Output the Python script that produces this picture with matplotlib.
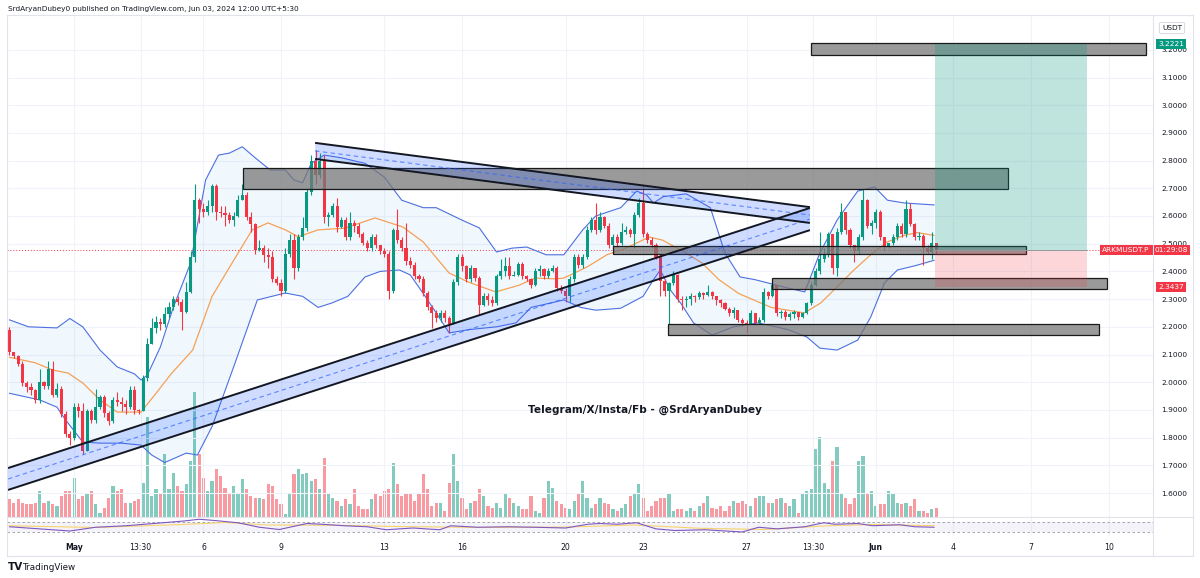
import numpy as np
import matplotlib
matplotlib.use("Agg")
import matplotlib.pyplot as plt
from matplotlib.patches import Rectangle, Polygon
from matplotlib.lines import Line2D

plt.rcParams['font.family'] = ['DejaVu Sans']

# ---------------- data (4h candles, ARKMUSDT.P) ----------------
first_open = 2.189
closes = [
    2.108, 2.093, 2.067, 1.996, 1.981, 1.971, 1.935, 2.001, 1.986, 2.047,
    1.955, 1.976, 1.884, 1.813, 1.798, 1.910, 1.895, 1.752, 1.895, 1.864,
    1.910, 1.945, 1.889, 1.859, 1.935, 1.930, 1.920, 1.910, 1.971, 1.900,
    1.895, 2.016, 2.138, 2.194, 2.219, 2.209, 2.245, 2.270, 2.301, 2.291,
    2.255, 2.326, 2.453, 2.656, 2.626, 2.616, 2.636, 2.707, 2.616, 2.610,
    2.605, 2.585, 2.600, 2.656, 2.676, 2.596, 2.570, 2.478, 2.484, 2.458,
    2.453, 2.372, 2.357, 2.331, 2.463, 2.514, 2.412, 2.524, 2.555, 2.687,
    2.798, 2.748, 2.798, 2.596, 2.605, 2.636, 2.560, 2.585, 2.524, 2.575,
    2.565, 2.534, 2.504, 2.484, 2.524, 2.494, 2.473, 2.463, 2.331, 2.550,
    2.514, 2.484, 2.438, 2.423, 2.382, 2.372, 2.321, 2.272, 2.250, 2.230,
    2.250, 2.230, 2.209, 2.362, 2.453, 2.418, 2.372, 2.412, 2.377, 2.280,
    2.311, 2.296, 2.285, 2.382, 2.402, 2.418, 2.382, 2.387, 2.428, 2.382,
    2.372, 2.352, 2.402, 2.407, 2.382, 2.402, 2.412, 2.341, 2.331, 2.311,
    2.372, 2.453, 2.423, 2.453, 2.550, 2.585, 2.550, 2.596, 2.565, 2.494,
    2.524, 2.504, 2.544, 2.550, 2.534, 2.605, 2.646, 2.534, 2.514, 2.494,
    2.453, 2.367, 2.331, 2.357, 2.387, 2.301, 2.296, 2.301, 2.311, 2.306,
    2.321, 2.316, 2.326, 2.311, 2.296, 2.285, 2.265, 2.250, 2.260, 2.225,
    2.215, 2.209, 2.250, 2.215, 2.225, 2.327, 2.311, 2.352, 2.250, 2.255,
    2.235, 2.245, 2.255, 2.235, 2.250, 2.285, 2.352, 2.402, 2.443, 2.463,
    2.534, 2.412, 2.544, 2.616, 2.550, 2.494, 2.473, 2.524, 2.656, 2.565,
    2.575, 2.616, 2.524, 2.488, 2.502, 2.524, 2.565, 2.534, 2.626, 2.570,
    2.524, 2.529, 2.484, 2.471, 2.504, 2.478,
]
highs = [
    2.199, 2.108, 2.098, 2.077, 2.006, 1.996, 1.976, 2.047, 2.006, 2.077,
    2.077, 1.996, 1.986, 1.895, 1.823, 1.925, 1.925, 1.925, 1.905, 1.905,
    1.976, 1.955, 1.955, 1.895, 1.945, 1.966, 1.945, 1.935, 1.986, 1.986,
    1.905, 2.027, 2.158, 2.230, 2.240, 2.230, 2.270, 2.291, 2.311, 2.311,
    2.301, 2.362, 2.473, 2.717, 2.666, 2.646, 2.656, 2.717, 2.717, 2.636,
    2.636, 2.616, 2.616, 2.676, 2.717, 2.686, 2.616, 2.575, 2.514, 2.494,
    2.484, 2.473, 2.382, 2.372, 2.484, 2.534, 2.534, 2.534, 2.596, 2.697,
    2.819, 2.839, 2.829, 2.819, 2.616, 2.646, 2.666, 2.596, 2.596, 2.616,
    2.585, 2.575, 2.544, 2.514, 2.534, 2.534, 2.494, 2.484, 2.473, 2.555,
    2.626, 2.524, 2.575, 2.453, 2.433, 2.392, 2.382, 2.331, 2.280, 2.260,
    2.260, 2.260, 2.240, 2.372, 2.463, 2.463, 2.423, 2.423, 2.412, 2.382,
    2.321, 2.321, 2.311, 2.392, 2.443, 2.453, 2.453, 2.402, 2.433, 2.433,
    2.387, 2.377, 2.412, 2.423, 2.412, 2.412, 2.423, 2.418, 2.352, 2.341,
    2.382, 2.463, 2.463, 2.463, 2.565, 2.596, 2.646, 2.616, 2.600, 2.575,
    2.534, 2.534, 2.575, 2.565, 2.555, 2.616, 2.666, 2.717, 2.544, 2.524,
    2.504, 2.463, 2.372, 2.362, 2.402, 2.392, 2.311, 2.311, 2.321, 2.316,
    2.331, 2.326, 2.352, 2.331, 2.311, 2.301, 2.291, 2.270, 2.270, 2.260,
    2.230, 2.225, 2.260, 2.250, 2.235, 2.341, 2.331, 2.362, 2.352, 2.260,
    2.260, 2.255, 2.260, 2.255, 2.255, 2.291, 2.362, 2.412, 2.544, 2.484,
    2.544, 2.534, 2.555, 2.646, 2.616, 2.555, 2.494, 2.534, 2.697, 2.661,
    2.585, 2.626, 2.620, 2.524, 2.504, 2.534, 2.575, 2.575, 2.656, 2.646,
    2.575, 2.544, 2.534, 2.494, 2.544, 2.504,
]
lows = [
    2.098, 2.087, 2.057, 1.986, 1.966, 1.955, 1.925, 1.925, 1.976, 1.976,
    1.945, 1.945, 1.874, 1.803, 1.773, 1.793, 1.874, 1.742, 1.752, 1.854,
    1.854, 1.905, 1.874, 1.844, 1.854, 1.915, 1.895, 1.884, 1.905, 1.884,
    1.884, 1.895, 2.006, 2.138, 2.179, 2.189, 2.199, 2.230, 2.260, 2.280,
    2.189, 2.250, 2.321, 2.433, 2.575, 2.596, 2.605, 2.616, 2.585, 2.596,
    2.565, 2.575, 2.565, 2.596, 2.656, 2.585, 2.544, 2.463, 2.473, 2.433,
    2.412, 2.362, 2.352, 2.311, 2.321, 2.453, 2.372, 2.402, 2.514, 2.545,
    2.676, 2.717, 2.737, 2.575, 2.565, 2.596, 2.544, 2.555, 2.514, 2.514,
    2.544, 2.524, 2.494, 2.473, 2.473, 2.484, 2.463, 2.453, 2.301, 2.321,
    2.504, 2.473, 2.423, 2.412, 2.372, 2.362, 2.311, 2.260, 2.194, 2.219,
    2.219, 2.219, 2.179, 2.209, 2.352, 2.402, 2.362, 2.362, 2.367, 2.245,
    2.275, 2.280, 2.275, 2.280, 2.372, 2.382, 2.372, 2.382, 2.382, 2.372,
    2.367, 2.341, 2.347, 2.382, 2.372, 2.377, 2.397, 2.331, 2.321, 2.291,
    2.291, 2.362, 2.412, 2.412, 2.443, 2.544, 2.534, 2.544, 2.555, 2.484,
    2.484, 2.489, 2.494, 2.534, 2.524, 2.484, 2.596, 2.524, 2.504, 2.484,
    2.443, 2.311, 2.311, 2.209, 2.352, 2.291, 2.260, 2.270, 2.280, 2.291,
    2.301, 2.301, 2.311, 2.301, 2.280, 2.270, 2.260, 2.240, 2.230, 2.219,
    2.204, 2.179, 2.209, 2.209, 2.209, 2.219, 2.301, 2.306, 2.240, 2.230,
    2.225, 2.225, 2.230, 2.225, 2.230, 2.245, 2.280, 2.347, 2.392, 2.433,
    2.453, 2.392, 2.382, 2.534, 2.534, 2.484, 2.433, 2.463, 2.514, 2.555,
    2.534, 2.555, 2.514, 2.478, 2.484, 2.494, 2.514, 2.524, 2.524, 2.565,
    2.514, 2.514, 2.423, 2.463, 2.443, 2.463,
]
volumes = [
    53, 43, 53, 43, 38, 38, 43, 78, 43, 48,
    38, 33, 63, 78, 78, 118, 53, 63, 68, 78,
    38, 13, 28, 58, 93, 78, 83, 43, 43, 48,
    53, 103, 300, 63, 83, 68, 189, 83, 133, 93,
    78, 98, 168, 375, 188, 118, 78, 108, 143, 123,
    88, 73, 93, 68, 113, 83, 63, 58, 58, 53,
    98, 93, 53, 38, 8, 73, 128, 143, 128, 133,
    108, 113, 83, 178, 73, 58, 48, 33, 53, 38,
    83, 33, 23, 23, 53, 73, 63, 78, 83, 163,
    98, 63, 68, 73, 48, 73, 128, 83, 33, 43,
    43, 18, 103, 188, 108, 58, 23, 43, 48, 83,
    63, 33, 28, 43, 28, 68, 58, 43, 33, 23,
    23, 63, 18, 13, 58, 108, 88, 48, 38, 28,
    23, 48, 68, 108, 58, 28, 38, 58, 43, 38,
    23, 18, 28, 38, 63, 68, 98, 58, 18, 33,
    48, 58, 58, 73, 18, 23, 23, 18, 28, 18,
    33, 43, 63, 28, 23, 33, 18, 33, 48, 43,
    48, 38, 33, 58, 63, 63, 43, 43, 53, 58,
    43, 33, 53, 13, 73, 78, 83, 204, 240, 103,
    83, 168, 210, 73, 58, 38, 58, 168, 183, 73,
    78, 33, 38, 38, 78, 68, 43, 38, 43, 33,
    53, 18, 18, 13, 23, 28,
]

time_tick_pos = [15, 30.4, 45, 63, 87, 105, 129, 147, 171, 186.4, 201, 219, 237, 255]
time_tick_labels = ["May", "13:30", "6", "9", "13", "16", "20", "23", "27",
                    "13:30", "Jun", "4", "7", "10"]
price_ticks = [1.6, 1.7, 1.8, 1.9, 2.0, 2.1, 2.2, 2.3, 2.4, 2.5,
               2.6, 2.7, 2.8, 2.9, 3.0, 3.1, 3.2]

# Bollinger bands
bb_upper_x = [0, 4.4, 11, 14, 17, 21, 25, 29, 30.5, 32, 35, 38, 42, 45.5, 48.5,
              51, 54, 57, 60.5, 64, 66, 68, 70, 73, 77, 82.5, 87, 91, 96, 99,
              105, 109, 113, 116.6, 120, 124.5, 128.6, 133, 136, 141.8, 145.5,
              147.8, 149.4, 151.7, 157, 162.6, 166, 169.5, 173, 180.6, 184.5,
              188, 192, 196.8, 200.7, 203.7, 207.6, 214.5]
bb_upper = [2.225, 2.20, 2.196, 2.23, 2.20, 2.116, 2.055, 2.03, 2.008, 2.026,
            2.127, 2.27, 2.43, 2.73, 2.82, 2.827, 2.85, 2.81, 2.766, 2.766,
            2.73, 2.72, 2.79, 2.82, 2.81, 2.79, 2.74, 2.657, 2.63, 2.63,
            2.585, 2.557, 2.47, 2.484, 2.488, 2.46, 2.46, 2.55, 2.60, 2.63,
            2.69, 2.676, 2.647, 2.67, 2.68, 2.63, 2.466, 2.38, 2.37, 2.34,
            2.326, 2.466, 2.585, 2.69, 2.705, 2.657, 2.647, 2.64]
bb_lower_x = [0, 7, 11, 13, 17, 21, 26, 30.5, 33, 36, 41, 43.6, 47, 52, 57.5,
              64, 68, 71.6, 74.8, 78.5, 82.5, 86, 90.5, 93, 96, 99, 102, 106.7,
              113, 117.5, 121, 126.7, 128.6, 132.5, 136, 141.8, 147, 149.4, 151,
              153.3, 155.7, 158.7, 163, 168, 173.7, 180.6, 185, 188, 192, 196.8,
              199.8, 203, 206, 210, 214.5]
bb_lower = [1.96, 1.936, 1.91, 1.864, 1.784, 1.78, 1.78, 1.773, 1.737, 1.71,
            1.744, 1.737, 1.84, 2.055, 2.297, 2.322, 2.31, 2.27, 2.286, 2.31,
            2.38, 2.40, 2.405, 2.387, 2.32, 2.25, 2.178, 2.19, 2.20, 2.214,
            2.27, 2.29, 2.297, 2.27, 2.26, 2.267, 2.31, 2.37, 2.405, 2.333,
            2.286, 2.214, 2.17, 2.20, 2.214, 2.19, 2.163, 2.123, 2.116, 2.152,
            2.235, 2.358, 2.405, 2.42, 2.44]
bb_basis_x = [0, 6, 10, 13.6, 17, 21, 25, 30.5, 34, 37.5, 42.5, 47, 52.4, 56.3,
              60, 64, 67, 71.6, 77.8, 84.8, 91.3, 96, 99, 102, 106.7, 112.8,
              118.2, 122, 126.7, 128.6, 134, 138.6, 143, 148.4, 151.5, 157,
              160.7, 164.6, 169.2, 176.7, 184.4, 188.2, 192, 195.9, 199.8,
              203.6, 207.5, 210.6, 214.5]
bb_basis = [2.09, 2.07, 2.044, 2.033, 1.997, 1.936, 1.892, 1.892, 1.96, 2.03,
            2.116, 2.31, 2.45, 2.55, 2.575, 2.55, 2.525, 2.55, 2.556, 2.593,
            2.56, 2.506, 2.45, 2.394, 2.36, 2.326, 2.35, 2.376, 2.373, 2.376,
            2.416, 2.46, 2.484, 2.524, 2.513, 2.466, 2.43, 2.37, 2.32, 2.27,
            2.25, 2.286, 2.344, 2.405, 2.46, 2.506, 2.53, 2.54, 2.53]

# RSI pane
rsi_x = [0, 7, 14, 20, 27, 33.5, 40.5, 44, 47.6, 53, 58, 62.6, 69, 72.4, 77.7,
         83, 87.4, 93.6, 99.8, 102.4, 108.6, 115.7, 121.9, 129, 134.2, 137, 141,
         145.5, 150, 154.4, 161.4, 170, 173.8, 178, 184.5, 188.9, 191.5, 196.8,
         200.3, 206.5, 210, 214.5]
rsi_vals = [51, 42.5, 34, 49, 55, 64, 74, 81, 76, 67, 49, 40, 64, 61, 55,
            51, 39, 46, 39, 55, 49, 51, 49, 46, 61, 64, 61, 67, 42.5, 36, 39,
            30, 49, 42.5, 51, 67, 61, 64, 55, 59, 51, 49]
rsi_ma_x = [0, 20, 40, 50, 60, 75, 90, 110, 130, 145, 160, 175, 190, 200, 214.5]
rsi_ma_vals = [55, 48, 60, 68, 58, 57, 52, 48, 50, 58, 45, 40, 55, 60, 55]

# drawings: zones (grey rectangles)
zone_left = [185.9, 54.2, 140.0, 176.9, 152.7]
zone_right = [263.6, 231.6, 235.8, 254.6, 252.7]
zone_low = [3.181, 2.697, 2.463, 2.336, 2.170]
zone_high = [3.2245, 2.773, 2.492, 2.376, 2.210]

# parallel channels (triangle)
asc_x = [-0.35, 185.7]
asc_upper = [1.690, 2.629]
asc_lower = [1.611, 2.549]
desc_x = [70.9, 185.7]
desc_upper = [2.864, 2.632]
desc_lower = [2.806, 2.575]

# long position tool
pos_x = [214.7, 249.9]
entry_price = 2.477
target_price = 3.2221
stop_price = 2.3437

# ---------------- figure ----------------
W, H = 1200, 578
fig = plt.figure(figsize=(12, 5.78), dpi=100)
fig.patch.set_facecolor('white')


def rect(x0, y0, x1, y1):
    return [x0 / W, 1 - y1 / H, (x1 - x0) / W, (y1 - y0) / H]


XMIN, XMAX = -0.58, 265.3
YMIN, YMAX = 1.6 - 24 / 277, 1.6 + 478 / 277

UP, DOWN = '#089981', '#f23645'

ax_v = fig.add_axes(rect(7, 15, 1153, 517))
ax = fig.add_axes(rect(7, 15, 1153, 517))
ax.patch.set_visible(False)

n = len(closes)
x = np.arange(n)
c = np.array(closes)
o = np.array([first_open] + closes[:-1])
hi = np.array(highs)
lo = np.array(lows)
is_up = c >= o
cols = np.where(is_up, UP, DOWN)

# volume
vcols = [(8/255, 153/255, 129/255, 0.5) if u else (242/255, 54/255, 69/255, 0.5) for u in is_up]
ax_v.bar(x, volumes, width=0.74, color=vcols, lw=0)
ax_v.set_xlim(XMIN, XMAX)
ax_v.set_ylim(0, 1506)
ax_v.axis('off')

# grid and axes
ax.set_xlim(XMIN, XMAX)
ax.set_ylim(YMIN, YMAX)
ax.set_yticks(price_ticks)
ax.set_yticklabels([f"{p:.4f}" for p in price_ticks])
ax.yaxis.tick_right()
ax.tick_params(axis='y', length=0, pad=6, labelsize=5.3, labelcolor='#131722')
ax.set_xticks(time_tick_pos)
ax.tick_params(axis='x', length=0, labelbottom=False)
ax.grid(True, color='#f0f3fa', lw=0.8)
ax.set_axisbelow(True)
for s in ax.spines.values():
    s.set_visible(False)

# Bollinger bands
ax.fill(np.r_[bb_upper_x, bb_lower_x[::-1]], np.r_[bb_upper, bb_lower[::-1]],
        color='#2196f3', alpha=0.065, lw=0, zorder=1)
ax.plot(bb_upper_x, bb_upper, color='#4d6fe0', lw=0.8, zorder=2.5)
ax.plot(bb_lower_x, bb_lower, color='#4d6fe0', lw=0.8, zorder=2.5)
ax.plot(bb_basis_x, bb_basis, color='#f6a055', lw=0.9, zorder=2.5)

# candles
ax.vlines(x, lo, hi, colors=cols, lw=0.8, zorder=3)
body = np.maximum(np.abs(c - o), 0.002)
ax.bar(x, body, bottom=np.minimum(o, c), width=0.72, color=cols, lw=0, zorder=3.1)

# current price dotted line
ax.axhline(c[-1], color=DOWN, lw=0.7, ls=(0, (1, 2)), zorder=2)

# zones
for x0, x1, l0, h0 in zip(zone_left, zone_right, zone_low, zone_high):
    ax.add_patch(Rectangle((x0, l0), x1 - x0, h0 - l0,
                           facecolor=(0.47, 0.47, 0.47, 0.75),
                           edgecolor='#1a1a1a', lw=0.9, zorder=5))

# position tool
ax.add_patch(Rectangle((pos_x[0], entry_price), pos_x[1] - pos_x[0],
                       target_price - entry_price,
                       facecolor=(8/255, 153/255, 129/255, 0.26), lw=0, zorder=5.5))
ax.add_patch(Rectangle((pos_x[0], stop_price), pos_x[1] - pos_x[0],
                       entry_price - stop_price,
                       facecolor=(242/255, 54/255, 69/255, 0.2), lw=0, zorder=5.5))
ax.plot(pos_x, [entry_price, entry_price], color='#9598a1', lw=0.7, zorder=5.6)

# channels
for cx, cu, cl in [(asc_x, asc_upper, asc_lower), (desc_x, desc_upper, desc_lower)]:
    ax.add_patch(Polygon([(cx[0], cu[0]), (cx[1], cu[1]), (cx[1], cl[1]), (cx[0], cl[0])],
                         closed=True, facecolor=(41/255, 98/255, 255/255, 0.22),
                         edgecolor='none', zorder=6))
    ax.plot(cx, cu, color='#131722', lw=1.4, zorder=6.5, solid_capstyle='butt')
    ax.plot(cx, cl, color='#131722', lw=1.4, zorder=6.5, solid_capstyle='butt')
    ax.plot(cx, [(cu[0] + cl[0]) / 2, (cu[1] + cl[1]) / 2], color='#2962ff',
            alpha=0.7, lw=0.8, ls=(0, (4, 3)), zorder=6.4)

# watermark text
ax.text(147.4, 1.90, "Telegram/X/Insta/Fb - @SrdAryanDubey", ha='center', va='center',
        fontsize=7.6, fontweight='bold', color='#131722', zorder=8)

# right axis labels
T = ax.get_yaxis_transform()
def axis_label(xf, y, txt, fc):
    ax.text(xf, y, txt, transform=T, ha='center', va='center', fontsize=5.3,
            color='white', zorder=12, clip_on=False,
            bbox=dict(boxstyle='square,pad=0.28', fc=fc, ec='none'))

axis_label(1.0157, target_price, f"{target_price:.4f}", UP)
axis_label(1.0157, stop_price, f"{stop_price:.4f}", DOWN)
axis_label(1.0157, c[-1], "01:29:08", DOWN)
axis_label(0.9764, c[-1], "ARKMUSDT.P", DOWN)

# RSI pane
ax_r = fig.add_axes(rect(7, 517, 1153, 536))
ax_r.set_xlim(XMIN, XMAX)
ax_r.set_ylim(14, 90)
ax_r.axhspan(30, 70, color='#7e57c2', alpha=0.07, lw=0)
for lvl in (70, 30):
    ax_r.axhline(lvl, color='#9598a1', lw=0.6, ls=(0, (3, 3)))
ax_r.plot(rsi_ma_x, rsi_ma_vals, color='#f5d46e', lw=0.8)
ax_r.plot(rsi_x, rsi_vals, color='#7e57c2', lw=0.8)
ax_r.set_yticks([])
ax_r.set_xticks(time_tick_pos)
ax_r.set_xticklabels(time_tick_labels)
ax_r.tick_params(axis='x', length=0, pad=5, labelsize=5.6, labelcolor='#131722')
for lab in ax_r.get_xticklabels():
    if lab.get_text() in ("May", "Jun"):
        lab.set_fontweight('bold')
ax_r.grid(True, axis='x', color='#f0f3fa', lw=0.8)
ax_r.set_axisbelow(True)
for s in ax_r.spines.values():
    s.set_visible(False)

# frame lines
def fline(x0, y0, x1, y1, col='#e0e3eb', lw=0.8):
    fig.add_artist(Line2D([x0 / W, x1 / W], [1 - y0 / H, 1 - y1 / H],
                          color=col, lw=lw, transform=fig.transFigure))

fline(7, 15, 1193, 15)
fline(7, 556, 1193, 556)
fline(7, 15, 7, 556)
fline(1193, 15, 1193, 556)
fline(1153, 15, 1153, 556)
fline(7, 517, 1193, 517)

# USDT box
fig.text(1172 / W, 1 - 28 / H, "USDT", ha='center', va='center', fontsize=5.3,
         color='#131722',
         bbox=dict(boxstyle='round,pad=0.35,rounding_size=0.2', fc='white', ec='#d1d4dc', lw=0.6))

# header / footer
fig.text(8 / W, 1 - 9 / H,
         "SrdAryanDubey0 published on TradingView.com, Jun 03, 2024 12:00 UTC+5:30",
         ha='left', va='center', fontsize=5.3, color='#131722')
fig.text(8 / W, 1 - 567 / H, "TV", ha='left', va='center', fontsize=7.5,
         fontweight='heavy', color='#131722')
fig.text(22 / W, 1 - 567 / H, "TradingView", ha='left', va='center', fontsize=6.3,
         color='#131722')

fig.savefig('out.png', dpi=100, facecolor='white')
